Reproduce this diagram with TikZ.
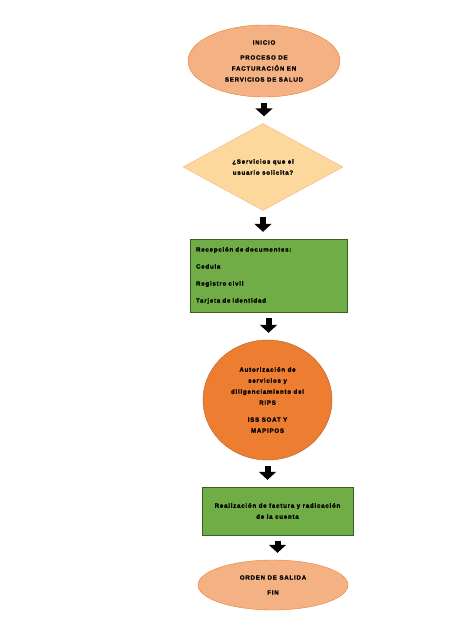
\documentclass[tikz,border=0pt]{standalone}
\usepackage{fontspec}
\setmainfont{Liberation Sans}
\newfontfamily\flujofont[LetterSpace=12, FakeBold=1.2]{Liberation Sans}
\usepackage{tikz}
\usetikzlibrary{
  shapes.geometric,      % Ellipses and the decision diamond
  arrows.meta            % Block arrows between steps
}

\definecolor{salmon}{HTML}{F4B183}
\definecolor{naranja}{HTML}{ED7D31}
\definecolor{naranjaosc}{HTML}{B55D22}
\definecolor{durazno}{HTML}{FDD89C}
\definecolor{verde}{HTML}{70AD47}
\definecolor{verdeosc}{HTML}{3A5F24}

\begin{document}
\begin{tikzpicture}[x=1pt, y=-1pt,
    txt/.style={font=\flujofont\fontsize{6.2}{11}\selectfont\bfseries, align=center, inner sep=0pt},
    flecha/.style={line width=6pt, -{Triangle[width=17pt,length=8pt]}, shorten <=6pt, shorten >=7pt}]
      \useasboundingbox (0,0) rectangle (474,632);

      \node[txt, ellipse, draw=naranja, fill=salmon, minimum width=152pt, minimum height=72pt] (inicio) at (264,61)
        {INICIO\\[4pt] PROCESO DE\\ FACTURACIÓN EN\\ SERVICIOS DE SALUD};
      \node[txt, diamond, aspect=1.85, draw=salmon, fill=durazno, minimum width=160pt, minimum height=87pt] (pregunta) at (263,167)
        {¿Servicios que el\\ usuario solicita?};
      \node[txt, rectangle, draw=verdeosc, fill=verde, align=left, text width=145pt, inner xsep=6pt, minimum height=73pt] (recepcion) at (268.5,275.5)
        {Recepción de documentes:\\[6pt] Cedula\\[6pt] Registro civil\\[6pt] Tarjeta de identidad};
      \node[txt, ellipse, draw=naranjaosc, fill=naranja, minimum width=129pt, minimum height=120pt] (autorizacion) at (267.5,400)
        {Autorización de\\ servicios y\\ diligenciamiento del\\ RIPS\\[6pt] ISS SOAT Y\\ MAPIPOS};
      \node[txt, rectangle, draw=verdeosc, fill=verde, minimum width=151pt, minimum height=48pt] (factura) at (277.5,511)
        {Realización de factura y radicación\\ de la cuenta};
      \node[txt, ellipse, draw=naranja, fill=salmon, minimum width=150pt, minimum height=50pt] (fin) at (273,585)
        {ORDEN DE SALIDA\\[4pt] FIN};

      \draw[flecha] (inicio.south) -- (inicio.south |- pregunta.north);
      \draw[flecha] (pregunta.south) -- (pregunta.south |- recepcion.north);
      \draw[flecha] (recepcion.south) -- (recepcion.south |- autorizacion.north);
      \draw[flecha] (autorizacion.south) -- (autorizacion.south |- factura.north);
      \draw[flecha] (factura.south) -- (factura.south |- fin.north);
  \end{tikzpicture}
\end{document}
